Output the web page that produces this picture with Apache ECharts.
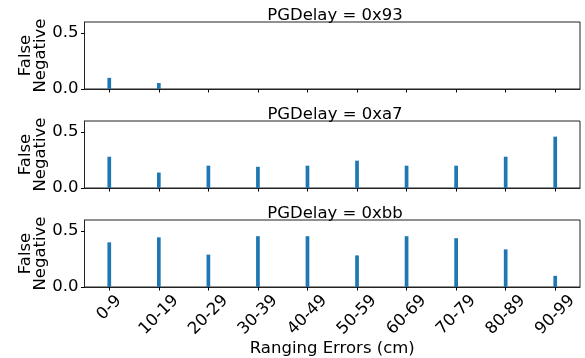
<!DOCTYPE html>
<html>
<head>
<meta charset="utf-8">
<script src="https://cdn.jsdelivr.net/npm/echarts@6/dist/echarts.min.js"></script>
<style>
  html, body { margin: 0; padding: 0; background: #fff; }
  #chart { width: 585px; height: 358px; }
</style>
</head>
<body>
<div id="chart"></div>
<script>
// Ranging-error buckets shared by every panel
const categories = ['0-9', '10-19', '20-29', '30-39', '40-49', '50-59', '60-69', '70-79', '80-89', '90-99'];

// False-negative rate per bucket for each PGDelay setting
const titles = ['PGDelay = 0x93', 'PGDelay = 0xa7', 'PGDelay = 0xbb'];
const fn0x93 = [0.10, 0.054, 0, 0, 0, 0, 0, 0, 0, 0];
const fn0xa7 = [0.28, 0.138, 0.20, 0.19, 0.20, 0.245, 0.20, 0.20, 0.28, 0.46];
const fn0xbb = [0.40, 0.445, 0.29, 0.455, 0.455, 0.283, 0.455, 0.437, 0.337, 0.10];

const yTicks = [0, 0.5];
const yLabel = 'False\nNegative';
const xLabel = 'Ranging Errors (cm)';

const panels = [fn0x93, fn0xa7, fn0xbb];
const FONT = 'DejaVu Sans';
const FS = 16.5;
const INK = '#000';

const gridTops = [22, 121, 220];
const gridH = 67;

const grids = [], xAxes = [], yAxes = [], series = [], titleList = [];

panels.forEach((vals, i) => {
  const last = i === panels.length - 1;
  grids.push({
    left: 84.5, right: 5, top: gridTops[i], height: gridH,
    show: true, borderColor: '#222', borderWidth: 1, backgroundColor: 'transparent'
  });
  titleList.push({
    text: titles[i], left: 330, top: gridTops[i] - 20, textAlign: 'center',
    textStyle: { fontFamily: FONT, fontSize: FS, fontWeight: 'normal', color: INK }
  });
  xAxes.push({
    type: 'category', gridIndex: i, data: categories, boundaryGap: true,
    axisLine: { show: true, lineStyle: { color: '#222', width: 1 } },
    axisTick: { show: true, alignWithLabel: true, length: 3.5, lineStyle: { color: INK } },
    axisLabel: last ? {
      show: true, interval: 0, rotate: 45, align: 'center', verticalAlign: 'middle',
      margin: 28, fontFamily: FONT, fontSize: FS, color: INK,
      formatter: (v) => v.length < 4 ? '{s|' + v + '}' : v,
      rich: { s: { fontFamily: FONT, fontSize: FS, color: INK, padding: [0, 0, 10, 10] } }
    } : { show: false },
    splitLine: { show: false },
    name: last ? xLabel : '', nameLocation: 'middle', nameGap: 53, nameMoveOverlap: false,
    nameTextStyle: { fontFamily: FONT, fontSize: FS, color: INK }
  });
  yAxes.push({
    type: 'value', gridIndex: i, min: 0, max: 0.6,
    axisLine: { show: true, lineStyle: { color: '#222', width: 1 } },
    axisTick: { show: true, length: 3.5, customValues: yTicks, lineStyle: { color: INK } },
    axisLabel: {
      show: true, customValues: yTicks, margin: 6, fontFamily: FONT, fontSize: FS, color: INK,
      formatter: (v) => v.toFixed(1)
    },
    splitLine: { show: false },
    name: yLabel, nameLocation: 'middle', nameRotate: 90, nameGap: 36, nameMoveOverlap: false,
    nameTextStyle: { fontFamily: FONT, fontSize: FS, color: INK, lineHeight: 15 }
  });
  series.push({
    type: 'bar', xAxisIndex: i, yAxisIndex: i, data: vals,
    barWidth: 3.7, itemStyle: { color: '#1f77b4' }, silent: true
  });
});

const chart = echarts.init(document.getElementById('chart'), null, { renderer: 'canvas' });
chart.setOption({
  animation: false,
  backgroundColor: '#fff',
  title: titleList,
  grid: grids,
  xAxis: xAxes,
  yAxis: yAxes,
  series: series
});
</script>
</body>
</html>
